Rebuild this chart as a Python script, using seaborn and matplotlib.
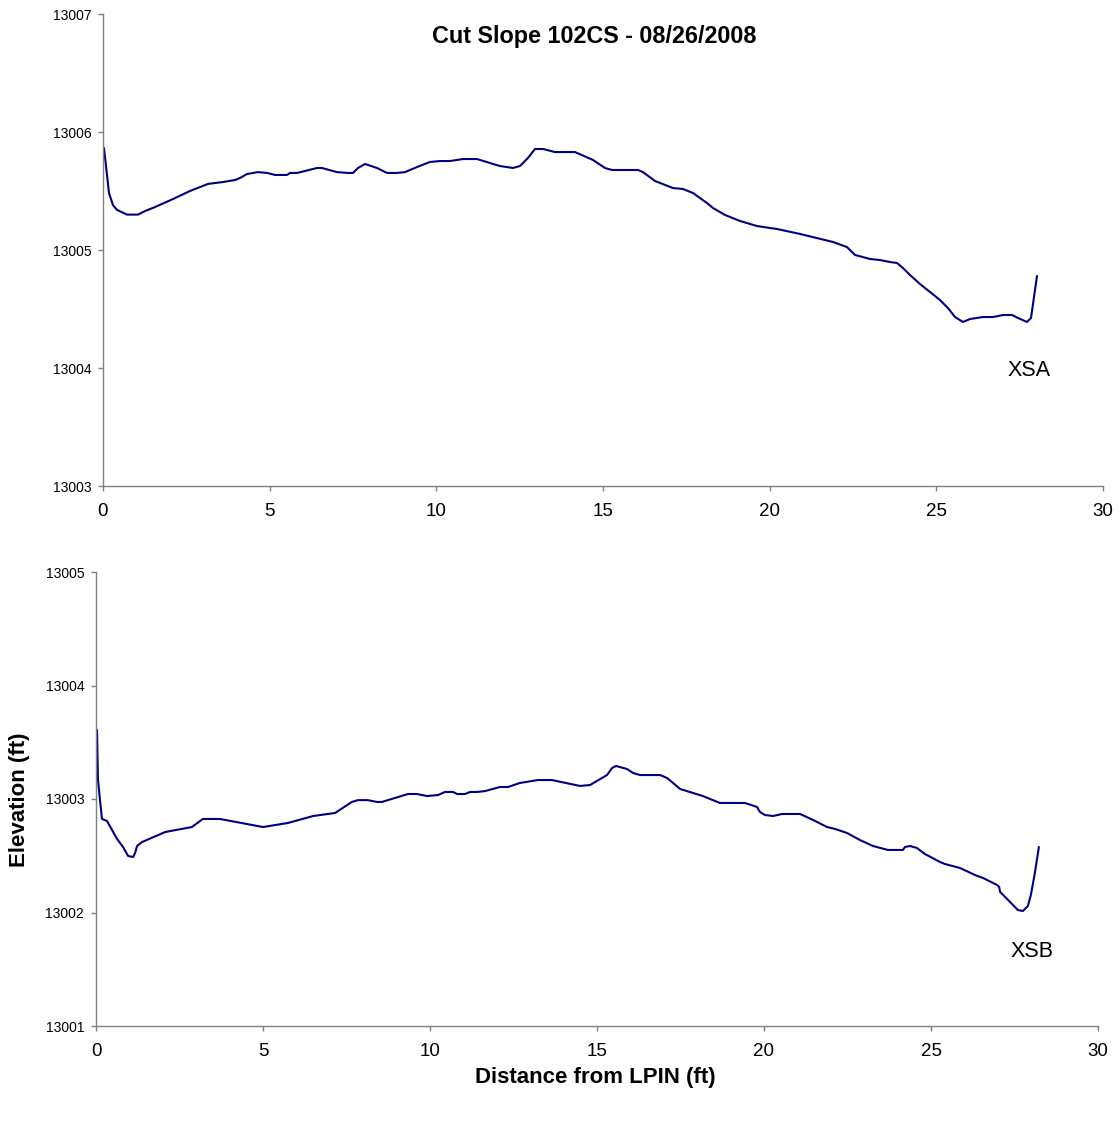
import matplotlib
matplotlib.use("Agg")
import matplotlib.pyplot as plt
import seaborn as sns
import pandas as pd

# Cross-section XSA: distance from LPIN (ft) and elevation (ft)
xsa_dist = [0.03, 0.18, 0.30, 0.42, 0.72, 1.05, 1.26, 1.56, 2.10, 2.61, 3.15, 3.60,
            3.96, 4.11, 4.32, 4.65, 4.92, 5.16, 5.52, 5.61, 5.82, 6.42, 6.57, 7.02,
            7.35, 7.50, 7.65, 7.86, 8.22, 8.52, 8.82, 9.06, 9.42, 9.81, 10.11, 10.41,
            10.80, 11.22, 11.61, 11.90, 12.30, 12.51, 12.75, 12.96, 13.20, 13.56,
            14.16, 14.70, 15.06, 15.27, 16.05, 16.20, 16.56, 17.10, 17.40, 17.70,
            18.12, 18.30, 18.66, 19.11, 19.62, 20.22, 20.91, 21.90, 22.32, 22.56,
            23.01, 23.31, 23.61, 23.82, 24.00, 24.21, 24.51, 24.81, 25.11, 25.35,
            25.56, 25.80, 26.01, 26.40, 26.70, 27.00, 27.27, 27.45, 27.72, 27.84,
            28.02]
xsa_elev = [13005.864, 13005.483, 13005.380, 13005.340, 13005.300, 13005.300,
            13005.330, 13005.364, 13005.432, 13005.500, 13005.560, 13005.576,
            13005.593, 13005.610, 13005.644, 13005.660, 13005.653, 13005.636,
            13005.636, 13005.653, 13005.653, 13005.695, 13005.695, 13005.660,
            13005.653, 13005.653, 13005.695, 13005.729, 13005.695, 13005.653,
            13005.653, 13005.660, 13005.703, 13005.746, 13005.754, 13005.754,
            13005.771, 13005.771, 13005.737, 13005.712, 13005.695, 13005.712,
            13005.780, 13005.856, 13005.856, 13005.830, 13005.830, 13005.763,
            13005.695, 13005.678, 13005.678, 13005.660, 13005.585, 13005.525,
            13005.517, 13005.483, 13005.398, 13005.356, 13005.297, 13005.246,
            13005.203, 13005.178, 13005.136, 13005.068, 13005.025, 13004.958,
            13004.924, 13004.915, 13004.898, 13004.890, 13004.847, 13004.788,
            13004.712, 13004.644, 13004.576, 13004.508, 13004.432, 13004.390,
            13004.415, 13004.432, 13004.432, 13004.449, 13004.449, 13004.424,
            13004.390, 13004.424, 13004.780]

# Cross-section XSB
xsb_dist = [0.03, 0.06, 0.12, 0.18, 0.33, 0.48, 0.63, 0.81, 0.96, 1.11, 1.17, 1.23,
            1.38, 2.07, 2.87, 3.20, 3.71, 5.00, 5.75, 6.50, 7.16, 7.66, 7.84, 8.14,
            8.41, 8.56, 9.34, 9.61, 9.91, 10.24, 10.45, 10.69, 10.81, 11.05, 11.20,
            11.41, 11.65, 12.10, 12.34, 12.69, 13.23, 13.65, 14.49, 14.79, 15.30,
            15.45, 15.57, 15.90, 16.08, 16.29, 16.89, 17.10, 17.49, 17.69, 18.17,
            18.68, 19.43, 19.79, 19.88, 20.03, 20.27, 20.54, 21.08, 21.47, 21.89,
            22.13, 22.49, 22.87, 23.26, 23.71, 24.16, 24.22, 24.37, 24.58, 24.82,
            25.27, 25.42, 25.87, 26.32, 26.56, 26.98, 27.04, 27.07, 27.28, 27.60,
            27.75, 27.90, 27.99, 28.11, 28.23]
xsb_elev = [13003.608, 13003.167, 13002.990, 13002.824, 13002.806, 13002.727,
            13002.648, 13002.577, 13002.498, 13002.489, 13002.524, 13002.586,
            13002.621, 13002.709, 13002.753, 13002.824, 13002.824, 13002.753,
            13002.789, 13002.850, 13002.877, 13002.974, 13002.990, 13002.990,
            13002.974, 13002.974, 13003.044, 13003.044, 13003.026, 13003.035,
            13003.062, 13003.062, 13003.044, 13003.044, 13003.062, 13003.062,
            13003.070, 13003.106, 13003.106, 13003.141, 13003.167, 13003.167,
            13003.115, 13003.123, 13003.211, 13003.273, 13003.291, 13003.264,
            13003.229, 13003.211, 13003.211, 13003.185, 13003.088, 13003.070,
            13003.026, 13002.965, 13002.965, 13002.930, 13002.885, 13002.859,
            13002.850, 13002.868, 13002.868, 13002.815, 13002.753, 13002.736,
            13002.700, 13002.639, 13002.586, 13002.551, 13002.551, 13002.577,
            13002.586, 13002.568, 13002.515, 13002.445, 13002.427, 13002.392,
            13002.330, 13002.304, 13002.242, 13002.225, 13002.181, 13002.119,
            13002.022, 13002.013, 13002.057, 13002.154, 13002.348, 13002.577]

x_ticks = [0, 5, 10, 15, 20, 25, 30]
ya_ticks = [13003, 13004, 13005, 13006, 13007]
yb_ticks = [13001, 13002, 13003, 13004, 13005]

title = "Cut Slope 102CS - 08/26/2008"
line_color = "#000080"
spine_color = "#808080"

sns.set_style("white")
plt.rcParams["font.family"] = ["Liberation Sans", "DejaVu Sans"]
plt.rcParams["text.color"] = "black"
plt.rcParams["xtick.labelcolor"] = "black"
plt.rcParams["ytick.labelcolor"] = "black"

fig = plt.figure(figsize=(11.2, 11.24), dpi=100)
ax_a = fig.add_axes([103 / 1120, 1 - 486 / 1124, 1000 / 1120, 472 / 1124])
ax_b = fig.add_axes([96 / 1120, 1 - 1026 / 1124, 1002 / 1120, 454 / 1124])

df_a = pd.DataFrame({"dist": xsa_dist, "elev": xsa_elev})
df_b = pd.DataFrame({"dist": xsb_dist, "elev": xsb_elev})

sns.lineplot(data=df_a, x="dist", y="elev", ax=ax_a, color=line_color,
             linewidth=1.5, sort=False, estimator=None)
sns.lineplot(data=df_b, x="dist", y="elev", ax=ax_b, color=line_color,
             linewidth=1.5, sort=False, estimator=None)

for ax, yt in ((ax_a, ya_ticks), (ax_b, yb_ticks)):
    ax.set_xlim(0, 30)
    ax.set_ylim(yt[0], yt[-1])
    ax.set_xticks(x_ticks)
    ax.set_yticks(yt)
    ax.set_yticklabels([str(v) for v in yt])
    ax.set_xlabel("")
    ax.set_ylabel("")
    for side in ("top", "right"):
        ax.spines[side].set_visible(False)
    for side in ("left", "bottom"):
        ax.spines[side].set_color(spine_color)
        ax.spines[side].set_linewidth(1.0)
    ax.tick_params(axis="y", direction="out", length=3.5, width=1.0,
                   color=spine_color, labelcolor="black", labelsize=10,
                   pad=5, left=True)
    ax.tick_params(axis="x", direction="out", length=3.5, width=1.0,
                   color=spine_color, labelcolor="black", labelsize=13.5,
                   pad=9, bottom=True)
    ax.grid(False)

ax_a.text(27.78, 13003.975, "XSA", fontsize=15.5, ha="center", va="center",
          color="black")
ax_b.text(28.02, 13001.66, "XSB", fontsize=15.5, ha="center", va="center",
          color="black")

fig.text(594 / 1120, 1 - 36 / 1124, title, fontsize=16.8, fontweight="bold",
         ha="center", va="center", color="black")
fig.text(595 / 1120, 1 - 1078 / 1124, "Distance from LPIN (ft)", fontsize=16,
         fontweight="bold", ha="center", va="center", color="black")
fig.text(20 / 1120, 1 - 800 / 1124, "Elevation (ft)", fontsize=16,
         fontweight="bold", ha="center", va="center", rotation=90,
         color="black")

fig.savefig("out.png", dpi=100, facecolor="white")
